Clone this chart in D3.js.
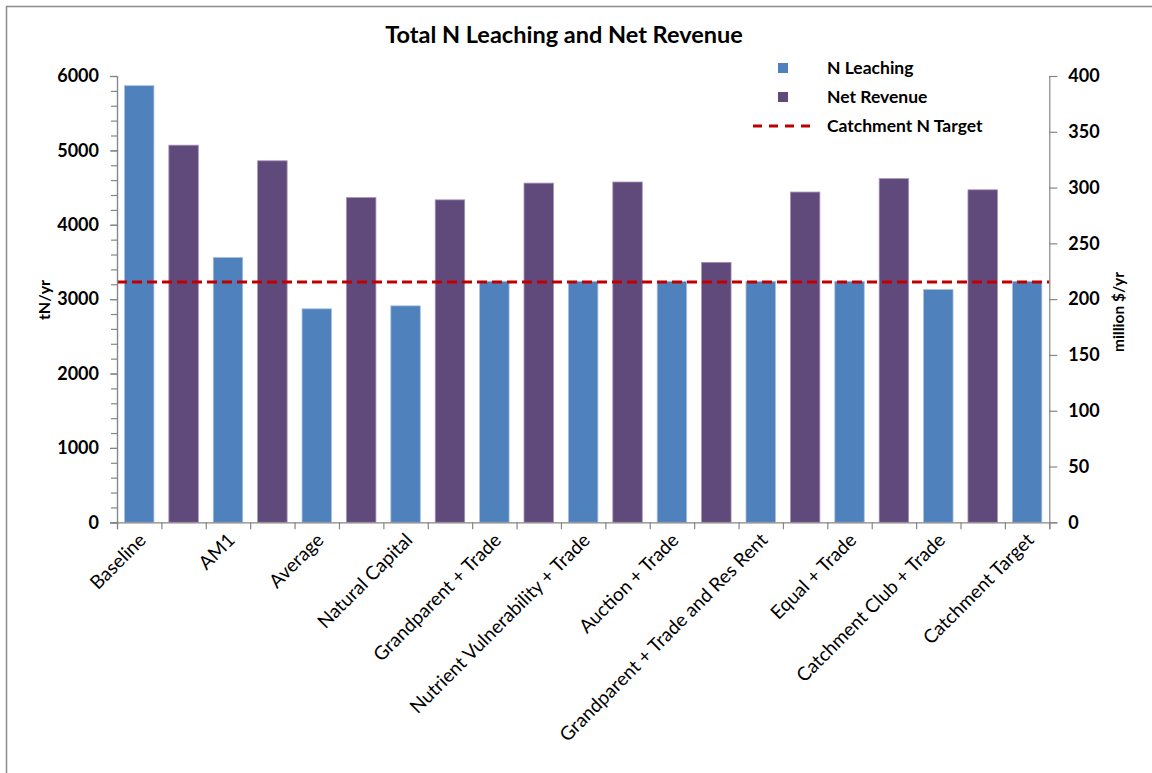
<!DOCTYPE html>
<html>
<head>
<meta charset="utf-8">
<script src="https://cdn.jsdelivr.net/npm/d3@7"></script>
<style>
  html, body { margin: 0; padding: 0; background: #fff; }
  svg { display: block; font-family: Lato, "Open Sans", sans-serif; }
</style>
</head>
<body>
<svg id="chart" width="1152" height="773"></svg>
<script>
// Scenarios, in plotting order
const scenarios = [
  "Baseline", "AM1", "Average", "Natural Capital", "Grandparent + Trade",
  "Nutrient Vulnerability + Trade", "Auction + Trade",
  "Grandparent + Trade and Res Rent", "Equal + Trade",
  "Catchment Club + Trade", "Catchment Target"
];
// Total N leaching (tN/yr), one per scenario
const nLeaching = [5870, 3560, 2870, 2910, 3240, 3240, 3240, 3240, 3240, 3130, 3240];
// Net revenue (million $/yr); the catchment target scenario has no revenue figure
const netRevenue = [338, 324, 291, 289, 304, 305, 233, 296, 308, 298];
// Catchment N target (tN/yr)
const catchmentTarget = 3230;

const leftTicks = [0, 1000, 2000, 3000, 4000, 5000, 6000];
const rightTicks = [0, 50, 100, 150, 200, 250, 300, 350, 400];

const COLORS = { n: "#4F81BD", rev: "#604A7B", target: "#C00000" };
const STROKES = { n: "#a9c0de", rev: "#a395b8" };

// Interleave the two series: each scenario gets an N slot followed by a revenue slot
const slots = [];
scenarios.forEach((s, i) => {
  slots.push({ key: "n" + i, series: "n", value: nLeaching[i], label: s });
  if (netRevenue[i] != null) slots.push({ key: "r" + i, series: "rev", value: netRevenue[i], label: "" });
});

const svg = d3.select("#chart");
const plotLeft = 117, plotRight = 1049.3, plotTop = 76, plotBottom = 522.3;

// frame around the chart area
svg.append("rect")
  .attr("x", 6.5).attr("y", 6.5).attr("width", 1160).attr("height", 780)
  .attr("fill", "none").attr("stroke", "#8c8c8c").attr("stroke-width", 1.5);

const x = d3.scaleBand().domain(slots.map(d => d.key)).range([plotLeft, plotRight])
  .paddingInner(0.336).paddingOuter(0.168);
const yL = d3.scaleLinear().domain([0, 6000]).range([plotBottom, plotTop]);
const yR = d3.scaleLinear().domain([0, 400]).range([plotBottom, plotTop]);
const edge = d3.scaleLinear().domain([0, slots.length]).range([plotLeft, plotRight]);

// bars
svg.append("g").selectAll("rect").data(slots).join("rect")
  .attr("x", d => x(d.key))
  .attr("width", x.bandwidth())
  .attr("y", d => (d.series === "n" ? yL : yR)(d.value))
  .attr("height", d => plotBottom - (d.series === "n" ? yL : yR)(d.value))
  .attr("fill", d => COLORS[d.series])
  .attr("stroke", d => STROKES[d.series])
  .attr("stroke-width", 0.8);

// target line
svg.append("line")
  .attr("x1", plotLeft).attr("x2", plotRight)
  .attr("y1", yL(catchmentTarget)).attr("y2", yL(catchmentTarget))
  .attr("stroke", COLORS.target).attr("stroke-width", 3)
  .attr("stroke-dasharray", "10,5");

const axisStyle = g => {
  g.selectAll("path.domain").attr("stroke", "#868686").attr("stroke-width", 1.2);
  g.selectAll(".tick line").attr("stroke", "#868686").attr("stroke-width", 1.2);
  g.selectAll(".tick text").attr("fill", "#000").attr("font-weight", "bold")
    .attr("font-size", "18px").attr("font-family", "Lato, sans-serif");
};

// left axis with minor ticks
svg.append("g").attr("transform", `translate(${plotLeft},0)`)
  .call(d3.axisLeft(yL).tickValues(d3.range(0, 6001, 200)).tickSize(6).tickFormat(""))
  .call(axisStyle);
svg.append("g").attr("transform", `translate(${plotLeft},0)`)
  .call(d3.axisLeft(yL).tickValues(leftTicks).tickSize(7).tickPadding(11).tickFormat(d3.format("d")))
  .call(axisStyle);

// right axis
svg.append("g").attr("transform", `translate(${plotRight},0)`)
  .call(d3.axisRight(yR).tickValues(rightTicks).tickSize(8).tickPadding(11).tickFormat(d3.format("d")))
  .call(axisStyle);

// category axis: ticks between slots
svg.append("g").attr("transform", `translate(0,${plotBottom})`)
  .call(d3.axisBottom(edge).tickValues(d3.range(slots.length + 1)).tickSize(7).tickFormat(""))
  .call(axisStyle);

// category labels, rotated
svg.append("g").selectAll("text").data(slots.filter(d => d.label)).join("text")
  .attr("transform", d => `translate(${x(d.key) + x.bandwidth() / 2 + 8},${plotBottom + 19}) rotate(-45)`)
  .attr("text-anchor", "end")
  .attr("font-size", "19px")
  .attr("fill", "#000")
  .text(d => d.label);

// title
svg.append("text")
  .attr("x", 564).attr("y", 43)
  .attr("text-anchor", "middle")
  .attr("font-size", "23.5px").attr("font-weight", "bold")
  .text("Total N Leaching and Net Revenue");

// axis titles
svg.append("text")
  .attr("transform", "translate(50,300) rotate(-90)")
  .attr("text-anchor", "middle")
  .attr("font-size", "16px").attr("font-weight", "bold")
  .text("tN/yr");
svg.append("text")
  .attr("transform", "translate(1124,312) rotate(-90)")
  .attr("text-anchor", "middle")
  .attr("font-size", "15.5px").attr("font-weight", "bold")
  .text("million $/yr");

// legend
const legend = svg.append("g");
const items = [
  { name: "N Leaching", type: "n" },
  { name: "Net Revenue", type: "rev" },
  { name: "Catchment N Target", type: "target" }
];
items.forEach((it, i) => {
  const cy = 68 + i * 29;
  if (it.type === "target") {
    legend.append("line")
      .attr("x1", 753).attr("x2", 813).attr("y1", cy).attr("y2", cy)
      .attr("stroke", COLORS.target).attr("stroke-width", 3)
      .attr("stroke-dasharray", "9,7");
  } else {
    legend.append("rect")
      .attr("x", 778).attr("y", cy - 5).attr("width", 10).attr("height", 10)
      .attr("fill", COLORS[it.type]);
  }
  legend.append("text")
    .attr("x", 827).attr("y", cy + 6)
    .attr("font-size", "17.5px").attr("font-weight", "bold")
    .text(it.name);
});
</script>
</body>
</html>
